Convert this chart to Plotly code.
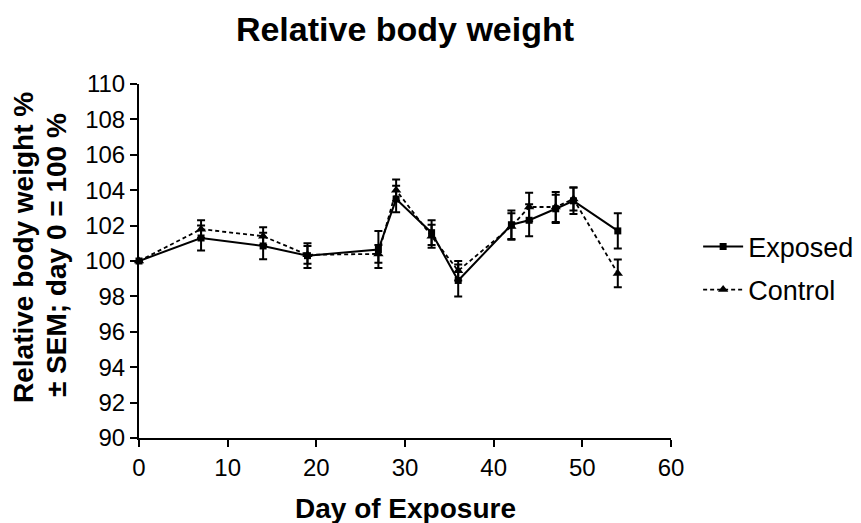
import plotly.graph_objects as go

days = [0, 7, 14, 19, 27, 29, 33, 36, 42, 44, 47, 49, 54]
exposed = [100.0, 101.3, 100.85, 100.3, 100.65, 103.5, 101.6, 98.9, 102.05, 102.3, 102.95, 103.4, 101.7]
exposed_sem = [0.0, 0.7, 0.75, 0.7, 1.05, 0.75, 0.7, 0.9, 0.8, 0.9, 0.8, 0.75, 1.0]
control = [100.0, 101.8, 101.4, 100.35, 100.4, 104.0, 101.4, 99.45, 101.95, 103.05, 103.05, 103.5, 99.3]
control_sem = [0.0, 0.5, 0.5, 0.5, 0.5, 0.6, 0.65, 0.55, 0.75, 0.8, 0.85, 0.65, 0.78]

x_ticks = [0, 10, 20, 30, 40, 50, 60]
y_ticks = [90, 92, 94, 96, 98, 100, 102, 104, 106, 108, 110]

FONT = "Liberation Sans, Arial, sans-serif"

fig = go.Figure()
fig.add_trace(go.Scatter(
    x=days, y=exposed, name="Exposed", mode="lines+markers", legendgroup="e",
    line=dict(color="black", width=2),
    marker=dict(symbol="square", size=7, color="black"),
    error_y=dict(type="data", array=exposed_sem, visible=True,
                 color="black", thickness=2, width=4),
    cliponaxis=False,
))
fig.add_trace(go.Scatter(
    x=days, y=control, name="Control", mode="lines+markers", legendgroup="c",
    line=dict(color="black", width=1.8, dash="4px,3px"),
    marker=dict(symbol="triangle-up", size=9, color="black"),
    error_y=dict(type="data", array=control_sem, visible=True,
                 color="black", thickness=2, width=4),
    cliponaxis=False,
))

# the page body has an 8px margin, so the figure is drawn 8px right / down
fig.update_layout(
    width=861, height=523,
    margin=dict(l=131, r=198, t=76, b=93, autoexpand=False),
    paper_bgcolor="white", plot_bgcolor="white",
    font=dict(family=FONT, color="black"),
    title=dict(text="<b>Relative body weight</b>", x=0.5, xref="paper",
               y=1 - 21 / 523, yref="container", yanchor="middle",
               font=dict(size=34, family=FONT, color="black")),
    legend=dict(x=1.051, xanchor="left", y=0.479, yanchor="middle",
                font=dict(size=27, family=FONT, color="black"),
                bgcolor="rgba(0,0,0,0)", itemwidth=40, tracegroupgap=5),
    showlegend=True,
)
fig.update_xaxes(
    range=[0, 60], tickvals=x_ticks, ticktext=[str(v) for v in x_ticks],
    showline=True, linecolor="black", linewidth=2,
    ticks="outside", ticklen=7, tickwidth=2, tickcolor="black",
    showgrid=False, zeroline=False, automargin=False,
    tickfont=dict(size=24, family=FONT, color="black"),
)
fig.update_yaxes(
    range=[90, 110], tickvals=y_ticks, ticktext=[str(v) for v in y_ticks],
    showline=True, linecolor="black", linewidth=2,
    ticks="outside", ticklen=7, tickwidth=2, tickcolor="black",
    showgrid=False, zeroline=False, automargin=False,
    tickfont=dict(size=24, family=FONT, color="black"),
)
fig.add_annotation(
    text="<b>Day of Exposure</b>",
    xref="paper", yref="paper", x=0.5, y=-0.198,
    xanchor="center", yanchor="middle", showarrow=False,
    font=dict(size=28, family=FONT, color="black"),
)
fig.add_annotation(
    text="<b>Relative body weight %</b>",
    textangle=-90, xref="paper", yref="paper", x=-0.216, y=0.537,
    xanchor="center", yanchor="middle", showarrow=False,
    font=dict(size=28, family=FONT, color="black"),
)
fig.add_annotation(
    text="<b>± SEM; day 0 = 100 %</b>",
    textangle=-90, xref="paper", yref="paper", x=-0.154, y=0.517,
    xanchor="center", yanchor="middle", showarrow=False,
    font=dict(size=28, family=FONT, color="black"),
)

fig.write_html("out.html")
